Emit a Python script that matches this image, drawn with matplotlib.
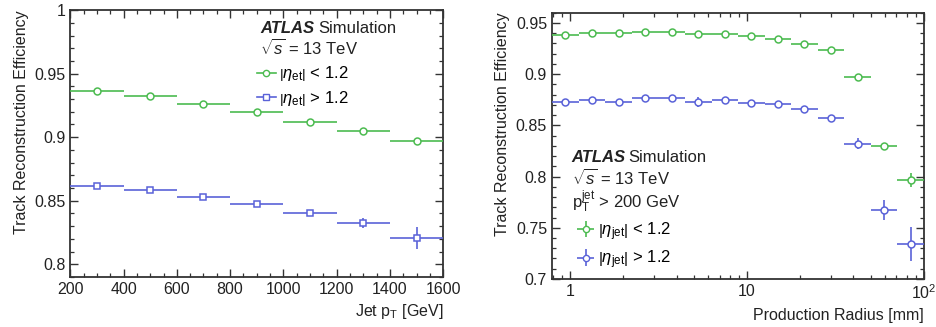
import numpy as np
import matplotlib
matplotlib.use('Agg')
import matplotlib.pyplot as plt
from matplotlib.ticker import MultipleLocator, FuncFormatter, LogLocator, NullFormatter
from matplotlib.lines import Line2D

plt.rcParams['font.family'] = ['Liberation Sans', 'DejaVu Sans']
plt.rcParams['mathtext.fontset'] = 'custom'
plt.rcParams['mathtext.rm'] = 'Liberation Sans'
plt.rcParams['mathtext.it'] = 'Liberation Sans:italic'
plt.rcParams['mathtext.bf'] = 'Liberation Sans:bold'

GREEN = '#4cbb50'
BLUE = '#5a62d8'
FRAME = '#333333'
TXT = '#222222'

# left panel: efficiency vs jet pT
pt_edges = [200, 400, 600, 800, 1000, 1200, 1400, 1600]
eff_pt_central = [0.9364, 0.9327, 0.9264, 0.9199, 0.9123, 0.9052, 0.8974]
err_pt_central = [0.0005, 0.0005, 0.0005, 0.0005, 0.0006, 0.0008, 0.0010]
eff_pt_forward = [0.8615, 0.8584, 0.8529, 0.8476, 0.8401, 0.8325, 0.8209]
err_pt_forward = [0.0008, 0.0008, 0.0010, 0.0010, 0.0014, 0.0040, 0.0085]

# right panel: efficiency vs production radius
r_edges = [0.794, 1.12, 1.58, 2.24, 3.16, 4.47, 6.31, 8.91, 12.6, 17.8,
           25.1, 35.5, 50.1, 70.8, 100.0]
eff_r_central = [0.9386, 0.9406, 0.9406, 0.9412, 0.9409, 0.9396, 0.9396,
                 0.9373, 0.9344, 0.9295, 0.9240, 0.8974, 0.8297, 0.7968]
err_r_central = [0.001, 0.001, 0.001, 0.001, 0.001, 0.001, 0.001,
                 0.001, 0.001, 0.001, 0.001, 0.001, 0.002, 0.007]
eff_r_forward = [0.8724, 0.8747, 0.8724, 0.8763, 0.8763, 0.8727, 0.8750,
                 0.8721, 0.8708, 0.8662, 0.8575, 0.8322, 0.7675, 0.7341]
err_r_forward = [0.002, 0.002, 0.002, 0.002, 0.002, 0.005, 0.002,
                 0.002, 0.002, 0.002, 0.003, 0.005, 0.010, 0.017]


def style_axes(ax):
    for s in ax.spines.values():
        s.set_color(FRAME)
        s.set_linewidth(1.3)
    ax.tick_params(which='both', direction='in', top=True, right=True,
                   colors=FRAME, labelcolor=TXT, labelsize=11.5)
    ax.tick_params(which='major', length=6, width=1.0)
    ax.tick_params(which='minor', length=3, width=0.9)


def draw_series(ax, edges, vals, errs, color, marker, log=False):
    edges = np.array(edges, dtype=float)
    if log:
        x = np.sqrt(edges[:-1] * edges[1:])
    else:
        x = 0.5 * (edges[:-1] + edges[1:])
    xerr = [x - edges[:-1], edges[1:] - x]
    ax.errorbar(x, vals, yerr=errs, xerr=xerr, fmt=marker, color=color,
                mfc='white', mec=color, ms=5, mew=1.1, elinewidth=1.2,
                capsize=0, zorder=3)


eta_lo_l = r'$\left|\eta_{\rm et}\right|$ < 1.2'
eta_hi_l = r'$\left|\eta_{\rm et}\right|$ > 1.2'
eta_lo_r = r'$\left|\eta_{\rm jet}\right|$ < 1.2'
eta_hi_r = r'$\left|\eta_{\rm jet}\right|$ > 1.2'

fig = plt.figure(figsize=(9.37, 3.27), dpi=100)

# ---- left
ax1 = fig.add_axes([0.075, 0.153, 0.398, 0.816])
draw_series(ax1, pt_edges, eff_pt_central, err_pt_central, GREEN, 'o')
draw_series(ax1, pt_edges, eff_pt_forward, err_pt_forward, BLUE, 's')
ax1.set_xlim(200, 1600)
ax1.set_ylim(0.79, 1.0)
ax1.xaxis.set_major_locator(MultipleLocator(200))
ax1.xaxis.set_minor_locator(MultipleLocator(50))
ax1.yaxis.set_major_locator(MultipleLocator(0.05))
ax1.yaxis.set_minor_locator(MultipleLocator(0.01))
ax1.yaxis.set_major_formatter(FuncFormatter(lambda v, p: f'{v:g}'))
style_axes(ax1)
ax1.set_xlabel(r'Jet ${\rm p}_{\rm T}$ [GeV]', loc='right', fontsize=11.5, color=TXT)
ax1.set_ylabel('Track Reconstruction Efficiency', loc='top', fontsize=11.5, color=TXT)

ax1.text(0.51, 0.933, 'ATLAS', transform=ax1.transAxes, fontsize=12,
         fontweight='bold', fontstyle='italic', va='center', color=TXT)
ax1.text(0.665, 0.933, 'Simulation', transform=ax1.transAxes, fontsize=12,
         va='center', color=TXT)
ax1.text(0.51, 0.858, r'$\sqrt{s}$ = 13 TeV', transform=ax1.transAxes,
         fontsize=12, va='center', color=TXT)
h1 = [Line2D([], [], color=GREEN, marker='o', mfc='white', ms=4.5, lw=1.2),
      Line2D([], [], color=BLUE, marker='s', mfc='white', ms=4.5, lw=1.2)]
ax1.legend(h1, [eta_lo_l, eta_hi_l],
           loc='upper left', bbox_to_anchor=(0.47, 0.84), frameon=False,
           fontsize=12, handlelength=1.1, handletextpad=0.2, labelspacing=0.35,
           borderpad=0.2)

# ---- right
ax2 = fig.add_axes([0.589, 0.147, 0.397, 0.814])
draw_series(ax2, r_edges, eff_r_central, err_r_central, GREEN, 'o', log=True)
draw_series(ax2, r_edges, eff_r_forward, err_r_forward, BLUE, 'o', log=True)
ax2.set_xscale('log')
ax2.set_xlim(0.79, 100)
ax2.set_ylim(0.7, 0.96)
ax2.set_xticks([1, 10, 100])
ax2.set_xticklabels(['1', '10', r'$10^2$'])
ax2.xaxis.set_minor_locator(LogLocator(base=10, subs=np.arange(2, 10)))
ax2.xaxis.set_minor_formatter(NullFormatter())
ax2.yaxis.set_major_locator(MultipleLocator(0.05))
ax2.yaxis.set_minor_locator(MultipleLocator(0.01))
ax2.yaxis.set_major_formatter(FuncFormatter(lambda v, p: f'{v:g}'))
style_axes(ax2)
ax2.set_xlabel('Production Radius [mm]', loc='right', fontsize=11.5, color=TXT)
ax2.set_ylabel('Track Reconstruction Efficiency', loc='top', fontsize=11.5, color=TXT)

ax2.text(0.053, 0.455, 'ATLAS', transform=ax2.transAxes, fontsize=12,
         fontweight='bold', fontstyle='italic', va='center', color=TXT)
ax2.text(0.205, 0.455, 'Simulation', transform=ax2.transAxes, fontsize=12,
         va='center', color=TXT)
ax2.text(0.053, 0.378, r'$\sqrt{s}$ = 13 TeV', transform=ax2.transAxes,
         fontsize=12, va='center', color=TXT)
ax2.text(0.053, 0.29, r'${\rm p}_{\rm T}^{\rm jet}$ > 200 GeV', transform=ax2.transAxes,
         fontsize=12, va='center', color=TXT)
h2 = [ax2.errorbar([], [], xerr=[], yerr=[], fmt='o', color=GREEN, mfc='white',
                   ms=4.5, elinewidth=1.2),
      ax2.errorbar([], [], xerr=[], yerr=[], fmt='o', color=BLUE, mfc='white',
                   ms=4.5, elinewidth=1.2)]
ax2.legend(h2, [eta_lo_r, eta_hi_r],
           loc='upper left', bbox_to_anchor=(0.035, 0.265), frameon=False,
           fontsize=12, handlelength=1.1, handletextpad=0.2, labelspacing=0.35,
           borderpad=0.2)

fig.savefig('out.png', dpi=100)
